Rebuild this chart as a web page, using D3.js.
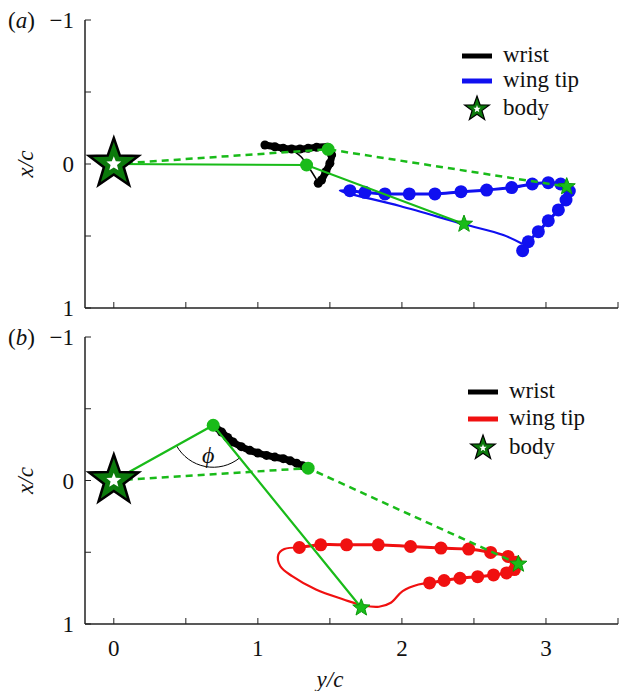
<!DOCTYPE html>
<html>
<head>
<meta charset="utf-8">
<script src="https://cdn.jsdelivr.net/npm/d3@7"></script>
<style>
svg text { font-family: "Liberation Serif", serif !important; }
</style>
</head>
<body style="margin:0">
<script>
// axis ticks
var xTicks = [0, 0.5, 1, 1.5, 2, 2.5, 3, 3.5];
var xTickLabels = [0, 1, 2, 3];
var yTicks = [-1, -0.5, 0, 0.5, 1];
var yTickLabels = [-1, 0, 1];

// panel (a): [y/c, x/c]
var wristA = [[1.049,-0.132],[1.118,-0.120],[1.176,-0.109],[1.234,-0.104],[1.292,-0.104],[1.349,-0.109],
	[1.408,-0.116],[1.481,-0.116],[1.512,-0.063],[1.500,-0.005],[1.472,0.053],[1.442,0.111],[1.419,0.134]];
var wristThinA = [[1.25,-0.09],[1.300,-0.050],[1.347,0.014],[1.408,0.111],[1.419,0.134]];
var tipA = [[1.639,0.185],[1.743,0.197],[1.882,0.208],[2.051,0.208],[2.229,0.208],[2.410,0.192],
	[2.588,0.181],[2.762,0.164],[2.905,0.139],[3.016,0.130],[3.102,0.139],[3.162,0.188],[3.139,0.250],
	[3.086,0.319],[3.016,0.394],[2.947,0.470],[2.877,0.540],[2.838,0.602]];
var tipThinA = [[2.838,0.556],[2.704,0.493],[2.426,0.417],[1.986,0.292],[1.569,0.185],[1.639,0.185]];
var solidA = [[0,0],[1.338,0.007],[2.431,0.417]];
var dashA = [[0,0],[1.488,-0.102],[3.144,0.157]];

// panel (b)
var wristB = [[0.690,-0.385],[0.748,-0.338],[0.790,-0.300],[0.828,-0.268],[0.885,-0.236],[0.944,-0.210],
	[1.000,-0.192],[1.060,-0.175],[1.118,-0.163],[1.176,-0.152],[1.225,-0.137],[1.269,-0.121],[1.310,-0.103],[1.349,-0.086]];
var tipB = [[1.288,0.467],[1.436,0.448],[1.616,0.448],[1.836,0.448],[2.060,0.460],[2.271,0.471],
	[2.463,0.478],[2.616,0.501],[2.737,0.529],[2.792,0.570],[2.781,0.621],[2.726,0.644],[2.636,0.658],
	[2.526,0.670],[2.403,0.681],[2.293,0.697],[2.192,0.714]];
var tipThinB = [[2.192,0.714],[2.115,0.725],[2.005,0.771],[1.923,0.852],[1.841,0.880],[1.732,0.871],
	[1.595,0.829],[1.403,0.760],[1.238,0.667],[1.156,0.598],[1.142,0.517],[1.184,0.478],[1.288,0.467]];
var solidB = [[0,0],[0.690,-0.385],[1.718,0.887]];
var dashB = [[0,0],[1.349,-0.086],[2.808,0.582]];
var phiPos = [0.655,-0.175];

var green = "#19bb19";
var darkGreen = "#0c7a0c";
var fontSize = 23;

var svg = d3.select("body").append("svg")
	.attr("width", 620)
	.attr("height", 691)
	.attr("font-family", "Liberation Serif");

var x = d3.scaleLinear().domain([-0.2, 3.5]).range([85, 618]);

function txt(g) {
	return g.append("text")
		.attr("font-family", "Liberation Serif")
		.attr("font-size", fontSize)
		.attr("fill", "#111");
}

function starPath(R, r) {
	var pts = [];
	for(var i = 0; i < 10; i++) {
		var a = -Math.PI/2 + i*Math.PI/5;
		var rad = (i % 2 === 0) ? R : r;
		pts.push([rad*Math.cos(a), rad*Math.sin(a)]);
	}
	return "M" + pts.map(p => p[0].toFixed(2) + "," + p[1].toFixed(2)).join("L") + "Z";
}

function bodyStar(g, cx, cy, R, sw) {
	g.append("path").attr("d", starPath(R, R*0.4))
		.attr("transform", "translate(" + cx + "," + cy + ")")
		.attr("fill", darkGreen).attr("stroke", "#000").attr("stroke-width", sw);
	g.append("path").attr("d", starPath(R*0.3, R*0.13))
		.attr("transform", "translate(" + cx + "," + cy + ")")
		.attr("fill", "#fff");
}

function smallStar(g, cx, cy) {
	g.append("path").attr("d", starPath(9, 3.8))
		.attr("transform", "translate(" + cx + "," + cy + ")")
		.attr("fill", green).attr("stroke", "#0a9a0a").attr("stroke-width", 1);
}

function axes(g, y, showX) {
	g.append("line").attr("x1", x(-0.2)).attr("x2", x(-0.2))
		.attr("y1", y(-1)).attr("y2", y(1)).attr("stroke", "#222").attr("stroke-width", 1.5);
	g.append("line").attr("x1", x(-0.2)).attr("x2", x(3.5))
		.attr("y1", y(1)).attr("y2", y(1)).attr("stroke", "#222").attr("stroke-width", 1.5);
	g.selectAll(".yt").data(yTicks).enter().append("line")
		.attr("x1", x(-0.2)).attr("x2", x(-0.2) + 6)
		.attr("y1", d => y(d)).attr("y2", d => y(d))
		.attr("stroke", "#222").attr("stroke-width", 1);
	g.selectAll(".xt").data(xTicks).enter().append("line")
		.attr("x1", d => x(d)).attr("x2", d => x(d))
		.attr("y1", y(1)).attr("y2", y(1) - 6)
		.attr("stroke", "#222").attr("stroke-width", 1);
	yTickLabels.forEach(function(d) {
		txt(g).attr("x", 74).attr("y", y(d) + 8)
			.attr("text-anchor", "end")
			.text(d < 0 ? "\u2212" + Math.abs(d) : d);
	});
	txt(g).attr("transform", "translate(33," + y(0) + ") rotate(-90)")
		.attr("text-anchor", "middle").attr("font-style", "italic")
		.text("x/c");
	if(showX) {
		xTickLabels.forEach(function(d) {
			txt(g).attr("x", x(d)).attr("y", y(1) + 32)
				.attr("text-anchor", "middle")
				.text(d);
		});
		txt(g).attr("x", 330).attr("y", y(1) + 63)
			.attr("text-anchor", "middle").attr("font-style", "italic")
			.text("y/c");
	}
}

function legend(g, lx, ly, tipColor) {
	var items = [["wrist", "#000"], ["wing tip", tipColor]];
	items.forEach(function(it, i) {
		g.append("line").attr("x1", lx).attr("x2", lx + 30)
			.attr("y1", ly[i]).attr("y2", ly[i])
			.attr("stroke", it[1]).attr("stroke-width", 5);
		txt(g).attr("x", lx + 41).attr("y", ly[i] + 6).text(it[0]);
	});
	bodyStar(g, lx + 15, ly[2], 13, 1.2);
	txt(g).attr("x", lx + 41).attr("y", ly[2] + 6).text("body");
}

function panel(opts) {
	var g = svg.append("g");
	var y = d3.scaleLinear().domain([-1, 1]).range(opts.range);
	var line = d3.line().x(d => x(d[0])).y(d => y(d[1]));
	var curve = d3.line().x(d => x(d[0])).y(d => y(d[1])).curve(d3.curveCatmullRom);

	axes(g, y, opts.showX);

	var lab = txt(g).attr("x", 8).attr("y", opts.range[0] + 8);
	lab.append("tspan").text("(");
	lab.append("tspan").attr("font-style", "italic").text(opts.letter);
	lab.append("tspan").text(")");

	// wing tip trajectory
	g.append("path").attr("d", curve(opts.tipThin)).attr("fill", "none")
		.attr("stroke", opts.tipColor).attr("stroke-width", 2.2);
	g.append("path").attr("d", curve(opts.tip)).attr("fill", "none")
		.attr("stroke", opts.tipColor).attr("stroke-width", 3);
	g.selectAll(".tipdot").data(opts.tip).enter().append("circle")
		.attr("cx", d => x(d[0])).attr("cy", d => y(d[1])).attr("r", 6.5)
		.attr("fill", opts.tipColor);

	// wrist trajectory
	if(opts.wristThin) {
		g.append("path").attr("d", curve(opts.wristThin)).attr("fill", "none")
			.attr("stroke", "#000").attr("stroke-width", 1.5);
	}
	g.append("path").attr("d", curve(opts.wrist)).attr("fill", "none")
		.attr("stroke", "#000").attr("stroke-width", 7)
		.attr("stroke-linecap", "round").attr("stroke-linejoin", "round");
	g.selectAll(".wdot").data(opts.wrist).enter().append("circle")
		.attr("cx", d => x(d[0])).attr("cy", d => y(d[1])).attr("r", 4.5)
		.attr("fill", "#000");

	// phi arc
	if(opts.phi) {
		var c = opts.solid[1];
		var cx = x(c[0]), cy = y(c[1]);
		var a1 = Math.atan2(y(opts.solid[0][1]) - cy, x(opts.solid[0][0]) - cx);
		var a2 = Math.atan2(y(opts.solid[2][1]) - cy, x(opts.solid[2][0]) - cx);
		var R = 42;
		g.append("path")
			.attr("d", "M" + (cx + R*Math.cos(a1)) + "," + (cy + R*Math.sin(a1)) +
				"A" + R + "," + R + " 0 0 0 " + (cx + R*Math.cos(a2)) + "," + (cy + R*Math.sin(a2)))
			.attr("fill", "none").attr("stroke", "#000").attr("stroke-width", 1);
		txt(g).attr("x", x(opts.phi[0])).attr("y", y(opts.phi[1]) + 8)
			.attr("text-anchor", "middle").attr("font-size", 24).attr("font-style", "italic")
			.text("\u03d5");
	}

	// wing lines
	g.append("path").attr("d", line(opts.dash)).attr("fill", "none")
		.attr("stroke", green).attr("stroke-width", 2.5).attr("stroke-dasharray", "7,5");
	g.append("path").attr("d", line(opts.solid)).attr("fill", "none")
		.attr("stroke", green).attr("stroke-width", 2.2);
	[opts.solid[1], opts.dash[1]].forEach(function(p) {
		g.append("circle").attr("cx", x(p[0])).attr("cy", y(p[1])).attr("r", 6.5).attr("fill", green);
	});
	smallStar(g, x(opts.solid[2][0]), y(opts.solid[2][1]));
	smallStar(g, x(opts.dash[2][0]), y(opts.dash[2][1]));
	bodyStar(g, x(0), y(0), 26, 2.5);

	legend(g, opts.legX, opts.legY, opts.tipColor);
}

panel({
	letter: "a", range: [20, 308], showX: false, tipColor: "#1010f0",
	wrist: wristA, wristThin: wristThinA, tip: tipA, tipThin: tipThinA,
	solid: solidA, dash: dashA, legX: 462, legY: [56, 81, 109]
});

panel({
	letter: "b", range: [337, 624], showX: true, tipColor: "#f01010",
	wrist: wristB, tip: tipB, tipThin: tipThinB,
	solid: solidB, dash: dashB, phi: phiPos, legX: 468, legY: [392, 419, 448]
});
</script>
</body>
</html>
